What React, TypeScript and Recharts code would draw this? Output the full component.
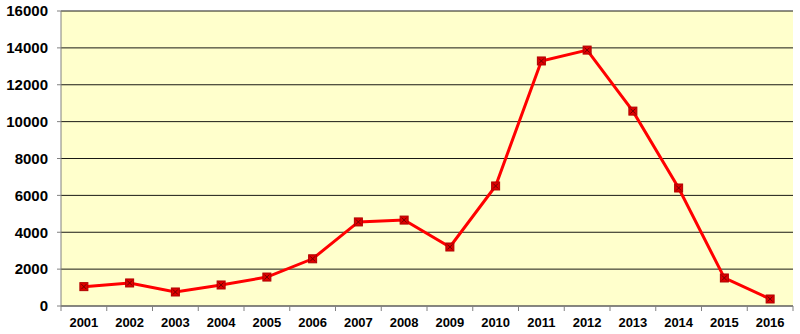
import React from 'react';
import { LineChart, Line, XAxis, YAxis, CartesianGrid } from 'recharts';

const years = ['2001','2002','2003','2004','2005','2006','2007','2008','2009','2010','2011','2012','2013','2014','2015','2016'];
const values = [1050, 1250, 760, 1140, 1570, 2560, 4560, 4660, 3200, 6510, 13290, 13880, 10570, 6400, 1520, 380];
const yTicks = [0, 2000, 4000, 6000, 8000, 10000, 12000, 14000, 16000];

const data = years.map((y, i) => ({ year: y, value: values[i] }));

const W = 800;
const H = 334;
const M = { top: 11, right: 7, bottom: 0, left: 0 };
const Y_W = 61;
const X_H = 28;
const HALF_BAND = (W - M.left - M.right - Y_W) / years.length / 2;

const XTick = (props: any) => {
  const { x, y, payload, index } = props;
  const ay = y - 8;
  return (
    <g>
      <line x1={x - HALF_BAND} x2={x - HALF_BAND} y1={ay} y2={ay + 5} stroke="#808080" strokeWidth={1} />
      {index === years.length - 1 && (
        <line x1={x + HALF_BAND} x2={x + HALF_BAND} y1={ay} y2={ay + 5} stroke="#808080" strokeWidth={1} />
      )}
      <text x={x} y={ay + 16} textAnchor="middle" dominantBaseline="central" fontFamily="Liberation Sans, Arial, sans-serif" fontWeight="bold" fontSize={13} fill="#000">
        {payload.value}
      </text>
    </g>
  );
};

const Dot = (props: any) => {
  const { cx, cy } = props;
  if (cx == null || cy == null) return null;
  const s = 4;
  return (
    <g>
      <rect x={cx - s} y={cy - s} width={2 * s} height={2 * s} fill="#E00000" stroke="#B00000" strokeWidth={1} />
      <line x1={cx - 2.5} y1={cy - 2.5} x2={cx + 2.5} y2={cy + 2.5} stroke="#700000" strokeWidth={1} />
      <line x1={cx - 2.5} y1={cy + 2.5} x2={cx + 2.5} y2={cy - 2.5} stroke="#700000" strokeWidth={1} />
    </g>
  );
};

export default function App() {
  return (
    <div style={{ position: 'absolute', left: 0, top: 0, width: W, height: H, background: '#fff' }}>
      <LineChart width={W} height={H} data={data} margin={M}>
        <CartesianGrid horizontal vertical={false} stroke="#000" strokeOpacity={0.9} fill="#FFFFCC" fillOpacity={1} />
        <XAxis
          dataKey="year"
          height={X_H}
          tickLine={false}
          axisLine={{ stroke: '#808080' }}
          tick={<XTick />}
          interval={0}
          padding={{ left: HALF_BAND, right: HALF_BAND }}
        />
        <YAxis
          width={Y_W}
          domain={[0, 16000]}
          ticks={yTicks}
          tickSize={4}
          tickMargin={9}
          tickLine={{ stroke: '#808080' }}
          axisLine={{ stroke: '#808080' }}
          tick={{ fontFamily: 'Liberation Sans, Arial, sans-serif', fontWeight: 'bold', fontSize: 15, fill: '#000' }}
        />
        <YAxis
          yAxisId="r"
          orientation="right"
          width={0}
          tick={false}
          tickLine={false}
          axisLine={{ stroke: '#808080' }}
        />
        <Line
          type="linear"
          dataKey="value"
          stroke="#FF0000"
          strokeWidth={3}
          dot={<Dot />}
          activeDot={false}
          isAnimationActive={false}
        />
      </LineChart>
    </div>
  );
}
